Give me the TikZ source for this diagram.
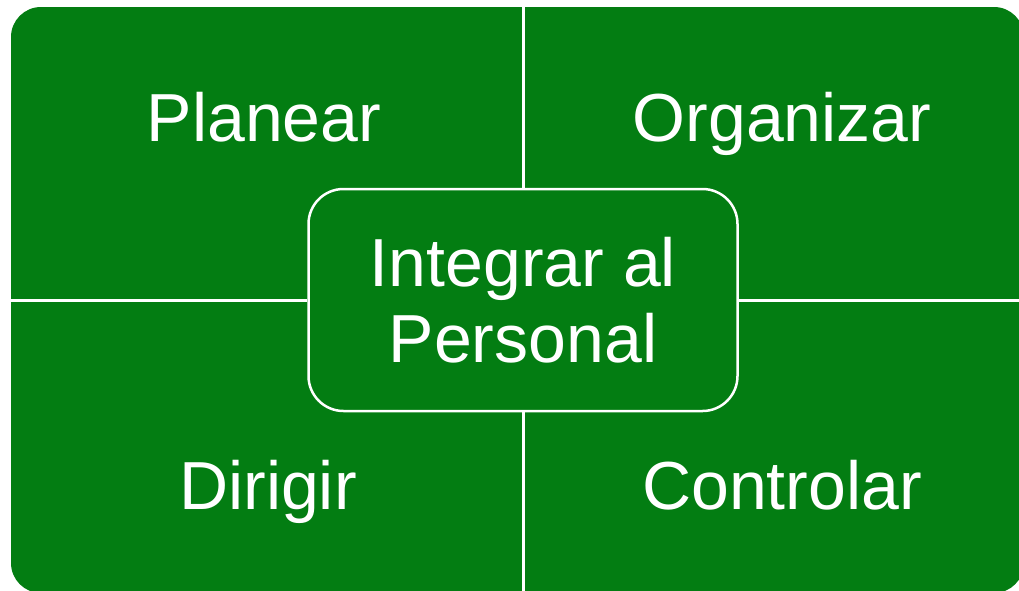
\documentclass[tikz,border=0pt]{standalone}
\usepackage{fontspec}
\setmainfont{Liberation Sans}
\usetikzlibrary{calc}
\definecolor{verde}{RGB}{3,125,18}

\begin{document}
\begin{tikzpicture}[x = 1pt, y = -1pt, text = white]

\tikzset{
	marco/.style = {
		fill = verde, rounded corners = 30pt, inner sep = 0pt,
		minimum width = 1013pt, minimum height = 586pt
	},
	central/.style = {
		fill = verde, draw = white, line width = 2.5pt,
		rounded corners = 35pt, minimum width = 429pt,
		minimum height = 222pt, align = center,
		font = \fontsize{68}{76}\selectfont
	},
	etiqueta/.style = {
		font = \fontsize{68}{76}\selectfont, anchor = base
	},
	divisor/.style = {draw = white, line width = 3pt}
}

\useasboundingbox (0,0) rectangle (1019,590);

\node[marco] (M) at (517.5,300) {}; % fondo verde
\node[central] (IP) at (523,300) {Integrar al\\Personal};

% lineas divisorias
\draw[divisor] (IP.north) -- (IP.north |- M.north);
\draw[divisor] (IP.south) -- (IP.south |- M.south);
\draw[divisor] (IP.west) -- (IP.west -| M.west);
\draw[divisor] (IP.east) -- (IP.east -| M.east);

\node[etiqueta] (PL) at (264,141) {Planear};
\node[etiqueta] (OR) at (782,141) {Organizar};
\node[etiqueta] (DI) at (268,509) {Dirigir};
\node[etiqueta] (CO) at (782,509) {Controlar};
\end{tikzpicture}
\end{document}
